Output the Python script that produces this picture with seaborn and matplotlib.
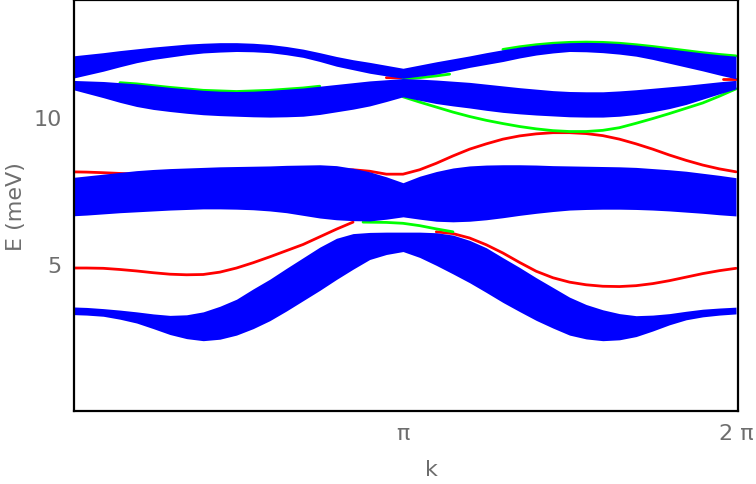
import numpy as np
import pandas as pd
import matplotlib
matplotlib.use('Agg')
from matplotlib import pyplot as plt
import seaborn as sns

# k is given in units of pi
k_band = [0.0, 0.05, 0.1, 0.15, 0.2, 0.25, 0.3, 0.35, 0.4, 0.45, 0.5,
          0.55, 0.6, 0.65, 0.7, 0.75, 0.8, 0.85, 0.9, 0.95, 1.0,
          1.05, 1.1, 1.15, 1.2, 1.25, 1.3, 1.35, 1.4, 1.45, 1.5,
          1.55, 1.6, 1.65, 1.7, 1.75, 1.8, 1.85, 1.9, 1.95, 2.0]

# bulk bands (lower / upper edge, meV)
band1_lo = [3.28, 3.26, 3.22, 3.12, 2.99, 2.80, 2.60, 2.46, 2.39, 2.44, 2.58,
            2.80, 3.07, 3.40, 3.75, 4.10, 4.47, 4.82, 5.15, 5.32, 5.42,
            5.22, 4.95, 4.66, 4.36, 4.03, 3.69, 3.38, 3.08, 2.82, 2.58,
            2.45, 2.39, 2.42, 2.53, 2.72, 2.93, 3.10, 3.20, 3.26, 3.30]
band1_hi = [3.54, 3.52, 3.48, 3.43, 3.37, 3.30, 3.25, 3.27, 3.37, 3.56, 3.80,
            4.15, 4.48, 4.85, 5.21, 5.57, 5.87, 6.03, 6.07, 6.08, 6.08,
            6.08, 6.06, 5.98, 5.80, 5.55, 5.21, 4.88, 4.53, 4.20, 3.87,
            3.62, 3.44, 3.31, 3.24, 3.26, 3.31, 3.39, 3.46, 3.50, 3.53]
band2_lo = [6.63, 6.66, 6.70, 6.74, 6.77, 6.80, 6.83, 6.85, 6.87, 6.87, 6.86,
            6.84, 6.80, 6.74, 6.65, 6.56, 6.50, 6.47, 6.46, 6.52, 6.60,
            6.52, 6.45, 6.43, 6.45, 6.50, 6.57, 6.65, 6.72, 6.78, 6.83,
            6.85, 6.86, 6.86, 6.85, 6.83, 6.80, 6.76, 6.72, 6.67, 6.63]
band2_hi = [7.93, 7.99, 8.05, 8.11, 8.17, 8.21, 8.24, 8.26, 8.28, 8.30, 8.31,
            8.32, 8.33, 8.35, 8.36, 8.37, 8.34, 8.25, 8.13, 7.96, 7.76,
            7.98, 8.14, 8.26, 8.33, 8.36, 8.37, 8.37, 8.36, 8.34, 8.33,
            8.32, 8.31, 8.30, 8.28, 8.24, 8.20, 8.15, 8.08, 8.01, 7.93]
band3_lo = [11.29, 11.42, 11.55, 11.70, 11.84, 11.95, 12.03, 12.11, 12.17, 12.20, 12.22,
            12.21, 12.18, 12.11, 12.02, 11.88, 11.72, 11.60, 11.48, 11.39, 11.31,
            11.38, 11.45, 11.56, 11.68, 11.78, 11.88, 12.00, 12.10, 12.17, 12.22,
            12.21, 12.18, 12.13, 12.06, 11.95, 11.82, 11.69, 11.56, 11.42, 11.29]
band3_hi = [12.06, 12.12, 12.18, 12.25, 12.31, 12.37, 12.42, 12.47, 12.50, 12.52, 12.52,
            12.50, 12.46, 12.39, 12.30, 12.18, 12.05, 11.94, 11.85, 11.75, 11.65,
            11.76, 11.87, 11.97, 12.07, 12.18, 12.28, 12.37, 12.44, 12.49, 12.52,
            12.53, 12.52, 12.49, 12.44, 12.38, 12.31, 12.24, 12.17, 12.11, 12.06]
band4_lo = [10.95, 10.80, 10.65, 10.49, 10.35, 10.25, 10.18, 10.12, 10.07, 10.04, 10.02,
            10.00, 9.99, 10.00, 10.02, 10.08, 10.17, 10.26, 10.37, 10.52, 10.68,
            10.56, 10.45, 10.37, 10.30, 10.22, 10.15, 10.10, 10.06, 10.03, 10.00,
            9.99, 9.99, 10.02, 10.08, 10.17, 10.28, 10.42, 10.60, 10.78, 10.95]
band4_hi = [11.24, 11.22, 11.20, 11.16, 11.12, 11.06, 11.00, 10.95, 10.90, 10.87, 10.86,
            10.87, 10.90, 10.94, 10.98, 11.04, 11.10, 11.16, 11.22, 11.26, 11.30,
            11.28, 11.25, 11.21, 11.17, 11.11, 11.05, 10.99, 10.94, 10.89, 10.86,
            10.85, 10.85, 10.88, 10.92, 10.97, 11.02, 11.07, 11.13, 11.19, 11.24]

# edge states (red)
red_low_left_k = [0.0, 0.05, 0.1, 0.15, 0.2, 0.25, 0.3, 0.35, 0.4, 0.45, 0.5,
                  0.55, 0.6, 0.65, 0.7, 0.75, 0.8, 0.85]
red_low_left_E = [4.86, 4.86, 4.85, 4.81, 4.76, 4.70, 4.65, 4.63, 4.64, 4.72, 4.86,
                  5.04, 5.24, 5.45, 5.66, 5.92, 6.18, 6.42]
red_low_right_k = [1.1, 1.15, 1.2, 1.25, 1.3, 1.35, 1.4, 1.45, 1.5, 1.55,
                   1.6, 1.65, 1.7, 1.75, 1.8, 1.85, 1.9, 1.95, 2.0]
red_low_right_E = [6.09, 6.03, 5.88, 5.65, 5.37, 5.05, 4.75, 4.53, 4.38, 4.29,
                   4.24, 4.23, 4.26, 4.33, 4.43, 4.55, 4.67, 4.77, 4.85]
red_mid_k = [0.0, 0.05, 0.1, 0.2, 0.5, 0.8, 0.85, 0.9, 0.95, 1.0, 1.05, 1.1, 1.15, 1.2,
             1.25, 1.3, 1.35, 1.4, 1.45, 1.5, 1.55, 1.6, 1.65, 1.7, 1.75, 1.8,
             1.85, 1.9, 1.95, 2.0]
red_mid_E = [8.13, 8.12, 8.10, 8.05, 8.10, 8.20, 8.20, 8.15, 8.05, 8.05, 8.20, 8.42, 8.67, 8.90,
             9.08, 9.24, 9.35, 9.42, 9.46, 9.46, 9.43, 9.36, 9.24, 9.08, 8.90, 8.70,
             8.52, 8.36, 8.23, 8.13]
red_top_k = [0.95, 1.01]
red_top_E = [11.33, 11.32]
red_edge_k = [1.96, 2.0]
red_edge_E = [11.27, 11.27]

# edge states (green)
green_low_k = [0.88, 0.95, 1.0, 1.05, 1.1, 1.15]
green_low_E = [6.42, 6.41, 6.38, 6.30, 6.19, 6.09]
green_up_right_k = [1.0, 1.05, 1.1, 1.15, 1.2, 1.25, 1.3, 1.35, 1.4, 1.45, 1.5,
                    1.55, 1.6, 1.65, 1.7, 1.75, 1.8, 1.85, 1.9, 1.95, 2.0]
green_up_right_E = [10.68, 10.50, 10.33, 10.16, 10.01, 9.88, 9.77, 9.67, 9.59, 9.53, 9.50,
                    9.50, 9.54, 9.63, 9.78, 9.94, 10.11, 10.29, 10.47, 10.70, 10.95]
green_top_right_k = [1.3, 1.35, 1.4, 1.45, 1.5, 1.55, 1.6, 1.65, 1.7, 1.75, 1.8,
                     1.85, 1.9, 1.95, 2.0]
green_top_right_E = [12.29, 12.38, 12.45, 12.50, 12.53, 12.54, 12.53, 12.50, 12.45, 12.39, 12.32,
                     12.25, 12.18, 12.12, 12.07]
green_up_left_k = [0.15, 0.2, 0.3, 0.4, 0.5, 0.6, 0.7, 0.75]
green_up_left_E = [11.16, 11.12, 11.00, 10.90, 10.86, 10.90, 10.98, 11.04]
green_short_k = [1.0, 1.05, 1.1, 1.14]
green_short_E = [11.29, 11.33, 11.39, 11.45]

sns.set_style('white')
plt.rcParams['font.family'] = ['DejaVu Sans']

GRAY = '#6e6e6e'

fig = plt.figure(figsize=(7.56, 4.85), dpi=100)
ax = fig.add_axes([74 / 756, 73 / 485, 664 / 756, 411 / 485])

# edge-state lines first, bands drawn over them
lines = [
    (red_low_left_k, red_low_left_E, '#ff0000'),
    (red_low_right_k, red_low_right_E, '#ff0000'),
    (red_mid_k, red_mid_E, '#ff0000'),
    (red_top_k, red_top_E, '#ff0000'),
    (red_edge_k, red_edge_E, '#ff0000'),
    (green_low_k, green_low_E, '#00ff00'),
    (green_up_right_k, green_up_right_E, '#00ff00'),
    (green_top_right_k, green_top_right_E, '#00ff00'),
    (green_up_left_k, green_up_left_E, '#00ff00'),
    (green_short_k, green_short_E, '#00ff00'),
]
for kk, ee, c in lines:
    df = pd.DataFrame({'k': np.array(kk) * np.pi, 'E': ee})
    sns.lineplot(data=df, x='k', y='E', color=c, lw=2.0, sort=False,
                 estimator=None, ax=ax)
for ln in ax.lines:
    ln.set_zorder(1)

k = np.array(k_band) * np.pi
for lo, hi in [(band1_lo, band1_hi), (band2_lo, band2_hi),
               (band3_lo, band3_hi), (band4_lo, band4_hi)]:
    ax.fill_between(k, lo, hi, color='#0000ff', lw=0, zorder=3)

ax.set_xlim(0.012 * np.pi, 2.006 * np.pi)
ax.set_ylim(0, 13.97)
ax.set_xticks([np.pi, 2 * np.pi])
ax.set_xticklabels(['π', '2 π'])
ax.set_yticks([5, 10])
ax.set_yticklabels(['5', '10'])
ax.tick_params(direction='in', length=3, width=1, color=GRAY,
               labelcolor=GRAY, labelsize=16, pad=9)
for s in ax.spines.values():
    s.set_color('black')
    s.set_linewidth(1.6)
    s.set_zorder(5)

ax.set_xlabel('k', fontsize=16, color=GRAY)
ax.xaxis.set_label_coords(0.538, -0.14)
ax.xaxis.label.set_va('center')
ax.set_ylabel('E (meV)', fontsize=16, color=GRAY)
ax.yaxis.set_label_coords(-0.087, 0.5)
ax.yaxis.label.set_va('center')

fig.savefig('out.png', dpi=100)
